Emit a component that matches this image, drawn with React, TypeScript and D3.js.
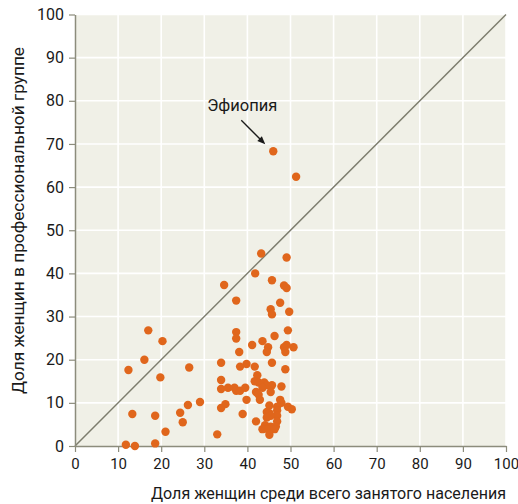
import React, { useEffect, useRef } from "react";
import * as d3 from "d3";

const xValues = [46.0, 51.3, 43.2, 49.1, 41.8, 34.6, 45.7, 48.5, 49.1, 37.4, 47.6, 45.4, 45.7, 49.7, 17.0, 37.4, 49.4, 37.4, 46.3, 20.3, 43.5, 41.1, 44.8, 49.1, 48.5, 50.7, 38.1, 48.8, 44.5, 16.1, 33.9, 39.8, 45.7, 38.3, 41.7, 48.8, 12.4, 26.5, 42.3, 19.8, 33.9, 41.7, 42.6, 43.9, 44.5, 45.7, 47.9, 33.9, 35.5, 37.0, 37.4, 38.3, 39.5, 43.5, 42.0, 45.4, 42.6, 42.9, 39.8, 47.6, 47.9, 29.0, 26.2, 34.9, 33.9, 45.1, 46.9, 49.4, 50.3, 46.9, 44.5, 45.1, 38.9, 13.3, 18.6, 24.4, 46.9, 45.4, 44.5, 42.0, 46.9, 25.0, 44.1, 45.4, 46.6, 43.5, 44.8, 46.3, 21.0, 33.0, 45.1, 11.8, 13.9, 18.6];
const yValues = [68.3, 62.4, 44.6, 43.7, 40.0, 37.3, 38.4, 37.2, 36.6, 33.7, 33.2, 31.7, 30.5, 31.1, 26.8, 26.4, 26.8, 24.9, 25.5, 24.3, 24.3, 23.4, 22.9, 23.4, 22.9, 22.9, 21.8, 21.8, 21.8, 20.0, 19.3, 19.0, 19.3, 18.4, 18.4, 17.8, 17.6, 18.2, 16.4, 15.9, 15.3, 15.0, 14.7, 14.7, 14.1, 14.1, 13.8, 13.2, 13.5, 13.5, 12.8, 12.8, 13.5, 13.5, 12.5, 12.5, 11.9, 10.7, 10.7, 10.7, 10.0, 10.2, 9.5, 9.7, 8.8, 9.4, 9.1, 9.1, 8.5, 8.2, 7.9, 7.6, 7.4, 7.4, 7.0, 7.7, 7.0, 7.0, 6.6, 5.7, 5.7, 5.5, 4.8, 4.5, 4.5, 3.9, 3.9, 3.9, 3.3, 2.7, 2.6, 0.3, 0.0, 0.6];
const tickValues = [0, 10, 20, 30, 40, 50, 60, 70, 80, 90, 100];
const xTitle = "Доля женщин среди всего занятого населения";
const yTitle = "Доля женщин в профессиональной группе";
const annotationLabel = "Эфиопия";
const annotationIndex = 0;

export default function App() {
  const ref = useRef<SVGSVGElement | null>(null);

  useEffect(() => {
    const svg = d3.select(ref.current);
    svg.selectAll("*").remove();
    const W = 518, H = 504;
    const left = 75, right = 506, top = 14.5, bottom = 446;
    const font = "Roboto, 'Liberation Sans', sans-serif";
    const x = d3.scaleLinear().domain([0, 100]).range([left, right]);
    const y = d3.scaleLinear().domain([0, 100]).range([bottom, top]);

    svg.append("rect").attr("x", 0).attr("y", 0).attr("width", W).attr("height", H).attr("fill", "#ffffff");
    svg.append("rect").attr("x", left).attr("y", top).attr("width", right - left).attr("height", bottom - top).attr("fill", "#f0f0e7");

    const grid = svg.append("g");
    grid.selectAll("line.v").data(tickValues.slice(1)).enter().append("line")
      .attr("x1", d => x(d)).attr("x2", d => x(d)).attr("y1", top).attr("y2", bottom)
      .attr("stroke", "#ffffff").attr("stroke-width", 1.6);
    grid.selectAll("line.h").data(tickValues.slice(1)).enter().append("line")
      .attr("y1", d => y(d)).attr("y2", d => y(d)).attr("x1", left).attr("x2", right)
      .attr("stroke", "#ffffff").attr("stroke-width", 1.6);

    svg.append("line").attr("x1", x(0)).attr("y1", y(0)).attr("x2", x(100)).attr("y2", y(100))
      .attr("stroke", "#7d7d6e").attr("stroke-width", 1.5);

    const axisColor = "#8c8c7c";
    const xAxis = svg.append("g").attr("transform", `translate(0,${bottom})`)
      .call(d3.axisBottom(x).tickValues(tickValues).tickSize(6).tickPadding(6).tickSizeOuter(0));
    const yAxis = svg.append("g").attr("transform", `translate(${left},0)`)
      .call(d3.axisLeft(y).tickValues(tickValues).tickSize(6).tickPadding(5).tickSizeOuter(0));
    [xAxis, yAxis].forEach(a => {
      a.select(".domain").attr("stroke", axisColor).attr("stroke-width", 1.5);
      a.selectAll(".tick line").attr("stroke", axisColor).attr("stroke-width", 1.2);
      a.selectAll(".tick text").attr("fill", "#1a1a1a").style("font-family", font);
    });
    xAxis.selectAll(".tick text").style("font-size", "15px");
    yAxis.selectAll(".tick text").style("font-size", "16px");

    svg.append("g").selectAll("circle").data(xValues.map((v, i) => [v, yValues[i]])).enter().append("circle")
      .attr("cx", d => x(d[0])).attr("cy", d => y(d[1])).attr("r", 4.2)
      .attr("fill", "#e0661c");

    const ax = x(xValues[annotationIndex]), ay = y(yValues[annotationIndex]);
    svg.append("text").attr("x", ax - 31).attr("y", ay - 40.5).attr("text-anchor", "middle")
      .style("font-family", font).style("font-size", "16.5px").attr("fill", "#1a1a1a").text(annotationLabel);
    const x1 = ax - 32, y1 = ay - 31, x2 = ax - 8, y2 = ay - 7;
    svg.append("line").attr("x1", x1).attr("y1", y1).attr("x2", x2 - 3).attr("y2", y2 - 3)
      .attr("stroke", "#1a1a1a").attr("stroke-width", 1.3);
    const ang = Math.atan2(y2 - y1, x2 - x1);
    const hl = 8, hw = 3.2;
    const pts = [
      [x2, y2],
      [x2 - hl * Math.cos(ang) + hw * Math.sin(ang), y2 - hl * Math.sin(ang) - hw * Math.cos(ang)],
      [x2 - hl * Math.cos(ang) - hw * Math.sin(ang), y2 - hl * Math.sin(ang) + hw * Math.cos(ang)],
    ];
    svg.append("polygon").attr("points", pts.map(p => p.join(",")).join(" ")).attr("fill", "#1a1a1a");

    svg.append("text").attr("x", right).attr("y", 499).attr("text-anchor", "end")
      .attr("textLength", 355).attr("lengthAdjust", "spacingAndGlyphs")
      .style("font-family", font).style("font-size", "16.5px").attr("fill", "#1a1a1a").text(xTitle);
    svg.append("text").attr("transform", `translate(24,${(47 + 394) / 2}) rotate(-90)`).attr("text-anchor", "middle")
      .attr("textLength", 347).attr("lengthAdjust", "spacingAndGlyphs")
      .style("font-family", font).style("font-size", "16.5px").attr("fill", "#1a1a1a").text(yTitle);
  }, []);

  return (
    <div style={{ position: "fixed", left: 0, top: 0 }}>
      <svg ref={ref} width={518} height={504} style={{ display: "block" }} />
    </div>
  );
}
